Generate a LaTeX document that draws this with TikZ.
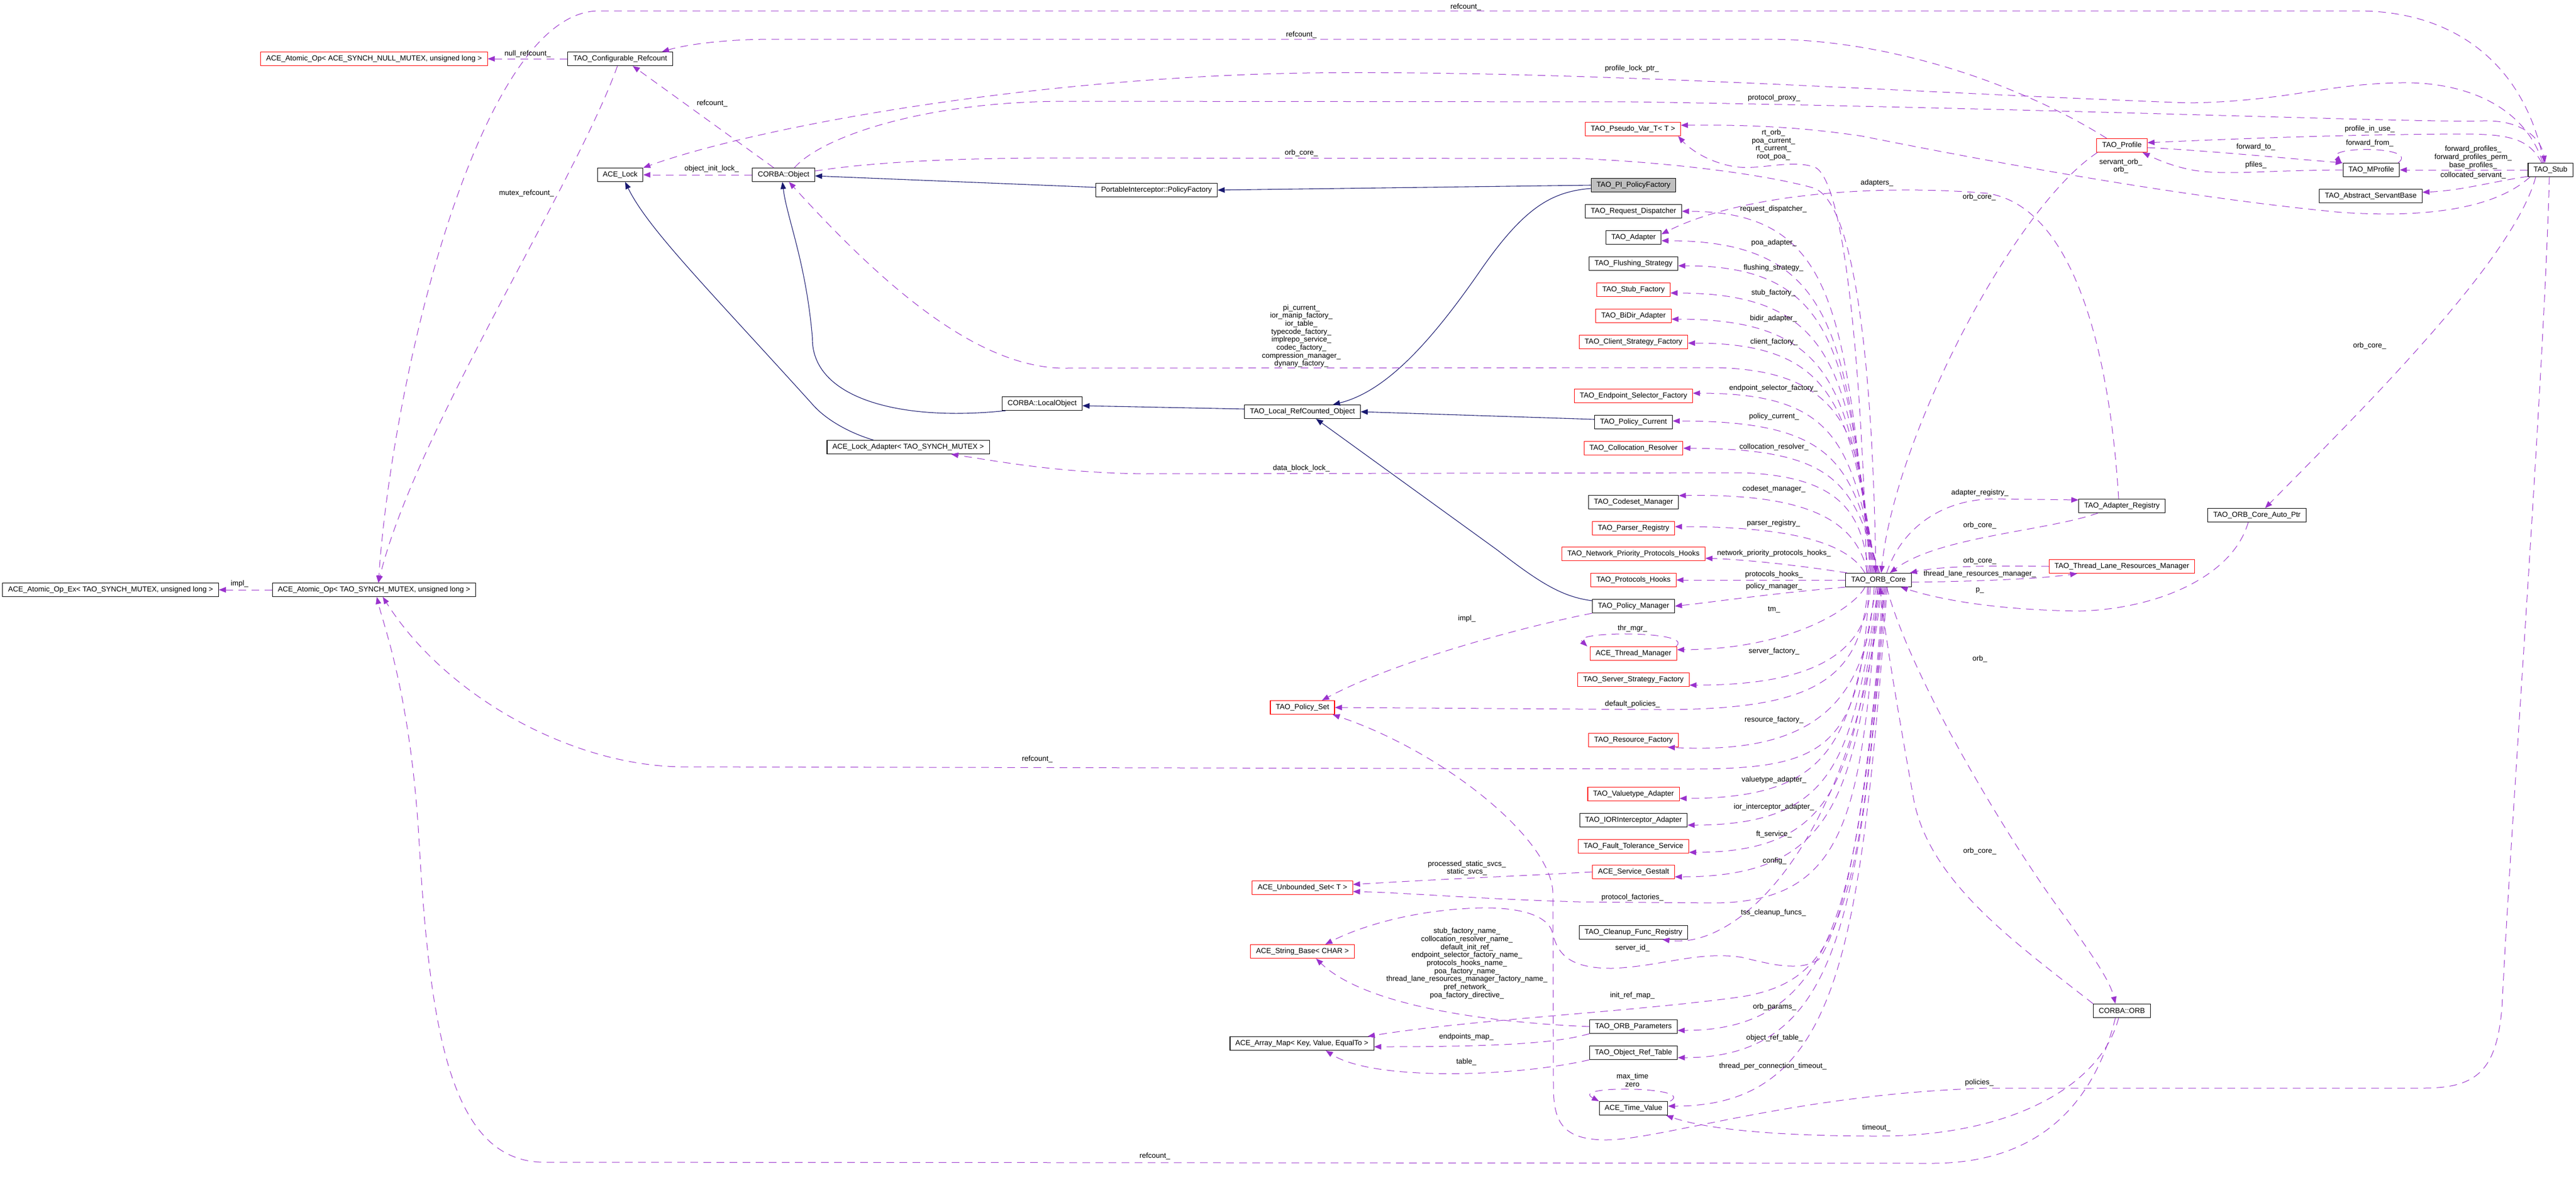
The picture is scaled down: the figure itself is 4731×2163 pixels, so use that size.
\documentclass[tikz,border=0pt]{standalone}
\usepackage{fontspec}
\setmainfont{Liberation Sans}
\usetikzlibrary{arrows.meta}
\definecolor{memc}{HTML}{9A32CD}
\definecolor{inhc}{HTML}{191970}
\definecolor{grayfill}{HTML}{BFBFBF}
\newcommand{\dfont}{\fontsize{13.5pt}{14.7pt}\selectfont}
\tikzset{
  cls/.style={draw=black, line width=1.1pt, fill=white, rectangle, minimum height=25pt, inner xsep=10pt, inner ysep=2pt, font=\dfont},
  inc/.style={cls, draw=red},
  subj/.style={cls, fill=grayfill},
  mem/.style={draw=memc, line width=1pt, dash pattern=on 14pt off 10pt, -{Triangle[length=13pt,width=10pt]}},
  inh/.style={draw=inhc, line width=1.1pt, -{Triangle[length=13pt,width=10pt]}},
  lbl/.style={font=\dfont, inner sep=0pt, align=center},
}
\begin{document}
\begin{tikzpicture}[x=1pt,y=-1pt]
\fill[white] (0,0) rectangle (4731,2163);
\useasboundingbox (0,0) rectangle (4731,2163);
% ---------------- nodes ----------------
\node[cls] (aex) at (203,1083) {ACE\_Atomic\_Op\_Ex< TAO\_SYNCH\_MUTEX, unsigned long >};
\node[inc] (anull) at (687,108) {ACE\_Atomic\_Op< ACE\_SYNCH\_NULL\_MUTEX, unsigned long >};
\node[cls] (aop) at (687,1083) {ACE\_Atomic\_Op< TAO\_SYNCH\_MUTEX, unsigned long >};
\node[cls] (cref) at (1139,108) {TAO\_Configurable\_Refcount};
\node[cls] (lock) at (1139,321) {ACE\_Lock};
\node[cls] (cobj) at (1439,321) {CORBA::Object};
\node[cls] (lockad) at (1668,821) {ACE\_Lock\_Adapter< TAO\_SYNCH\_MUTEX >};
\node[cls] (lobj) at (1914,741) {CORBA::LocalObject};
\node[cls] (pipf) at (2124,349) {PortableInterceptor::PolicyFactory};
\node[cls] (lrc) at (2392,756) {TAO\_Local\_RefCounted\_Object};
\node[inc] (pset) at (2392,1299) {TAO\_Policy\_Set};
\node[inc] (uset) at (2392,1630) {ACE\_Unbounded\_Set< T >};
\node[inc] (sbase) at (2392,1747) {ACE\_String\_Base< CHAR >};
\node[cls] (amap) at (2391,1916) {ACE\_Array\_Map< Key, Value, EqualTo >};
\node[inc] (pseudo) at (2999,237) {TAO\_Pseudo\_Var\_T< T >};
\node[subj] (pipf2) at (3000,340) {TAO\_PI\_PolicyFactory};
\node[cls] (reqd) at (3000,388) {TAO\_Request\_Dispatcher};
\node[cls] (adapter) at (3000,436) {TAO\_Adapter};
\node[cls] (flush) at (3000,484) {TAO\_Flushing\_Strategy};
\node[inc] (stubf) at (3000,532) {TAO\_Stub\_Factory};
\node[inc] (bidir) at (3000,580) {TAO\_BiDir\_Adapter};
\node[inc] (csf) at (3000,628) {TAO\_Client\_Strategy\_Factory};
\node[inc] (esf) at (3000,727) {TAO\_Endpoint\_Selector\_Factory};
\node[cls] (pcur) at (3000,775) {TAO\_Policy\_Current};
\node[inc] (coll) at (3000,823) {TAO\_Collocation\_Resolver};
\node[cls] (codeset) at (3000,922) {TAO\_Codeset\_Manager};
\node[inc] (parser) at (3000,970) {TAO\_Parser\_Registry};
\node[inc] (nph) at (3000,1017) {TAO\_Network\_Priority\_Protocols\_Hooks};
\node[inc] (phooks) at (3000,1065) {TAO\_Protocols\_Hooks};
\node[cls] (pman) at (3000,1113) {TAO\_Policy\_Manager};
\node[inc] (thrm) at (3000,1200) {ACE\_Thread\_Manager};
\node[inc] (ssf) at (3000,1248) {TAO\_Server\_Strategy\_Factory};
\node[inc] (resf) at (3000,1359) {TAO\_Resource\_Factory};
\node[inc] (vta) at (3000,1458) {TAO\_Valuetype\_Adapter};
\node[cls] (iora) at (3000,1506) {TAO\_IORInterceptor\_Adapter};
\node[inc] (fts) at (3000,1554) {TAO\_Fault\_Tolerance\_Service};
\node[inc] (gestalt) at (3000,1601) {ACE\_Service\_Gestalt};
\node[cls] (cleanup) at (3000,1712) {TAO\_Cleanup\_Func\_Registry};
\node[cls] (orbp) at (3000,1885) {TAO\_ORB\_Parameters};
\node[cls] (ort) at (3000,1933) {TAO\_Object\_Ref\_Table};
\node[cls] (tv) at (3000,2035) {ACE\_Time\_Value};
\node[cls] (core) at (3450,1065) {TAO\_ORB\_Core};
\node[inc] (profile) at (3897,267) {TAO\_Profile};
\node[cls] (areg) at (3897,929) {TAO\_Adapter\_Registry};
\node[inc] (tlrm) at (3897,1040) {TAO\_Thread\_Lane\_Resources\_Manager};
\node[cls] (corb) at (3897,1856) {CORBA::ORB};
\node[cls] (autoptr) at (4145,946) {TAO\_ORB\_Core\_Auto\_Ptr};
\node[cls] (mprof) at (4355,312) {TAO\_MProfile};
\node[cls] (asb) at (4354,360) {TAO\_Abstract\_ServantBase};
\node[cls] (stub) at (4684,312) {TAO\_Stub};
% ---------------- inheritance ----------------
\draw[inh] (pipf2.west) -- (pipf.east);
\draw[inh] ([yshift=5pt]pipf.west) -- ([yshift=-2pt]cobj.east);
\draw[inh] ([yshift=-6pt]pipf2.west) .. controls (2850,352) and (2800,380) .. (2720,495) .. controls (2620,640) and (2540,720) .. ([xshift=56pt]lrc.north);
\draw[inh] ([yshift=5pt]lrc.west) -- ([yshift=-4pt]lobj.east);
\draw[inh] ([xshift=7pt]lobj.south west) .. controls (1650,775) and (1490,730) .. (1492,620) .. controls (1480,480) and (1445,400) .. ([xshift=-2pt]cobj.south);
\draw[inh] ([yshift=5pt]pcur.west) -- (lrc.east);
\draw[inh] ([yshift=10pt]pman.west) .. controls (2870,1096) and (2830,1072) .. (2750,1010) -- ([xshift=25pt]lrc.south);
\draw[inh] ([xshift=-64pt]lockad.north) .. controls (1560,795) and (1515,770) .. (1490,740) .. controls (1300,530) and (1190,420) .. ([xshift=9pt]lock.south);
% ---------------- left cluster ----------------
\draw[mem] (aop.west) -- (aex.east);
\draw[mem] (cref.west) -- (anull.east);
\draw[mem] ([xshift=-5pt]cref.south) .. controls (1060,330) and (760,800) .. ([xshift=8pt]aop.north);
\draw[mem] ([xshift=-12pt]stub.north) .. controls (4640,130) and (4520,20) .. (4330,20) -- (1100,20) .. controls (880,20) and (720,700) .. ([xshift=8pt]aop.north);
\draw[mem] ([xshift=-28pt]profile.north) .. controls (3720,160) and (3480,73) .. (3250,72) -- (1420,72) .. controls (1330,72) and (1260,82) .. ([xshift=-20pt]cref.north east);
\draw[mem] ([xshift=-18pt]cobj.north) -- ([xshift=23pt]cref.south);
\draw[mem] (cobj.west) -- (lock.east);
\draw[mem] ([xshift=-14pt]stub.north) .. controls (4635,190) and (4520,150) .. (4410,152) .. controls (4270,154) and (4200,186) .. (4020,189) .. controls (3500,170) and (2900,128) .. (2400,134) .. controls (1900,142) and (1400,230) .. (lock.north east);
\draw[mem] ([xshift=20pt]cobj.north) .. controls (1510,250) and (1700,187) .. (1950,186) -- (3000,187) .. controls (3800,200) and (4450,226) .. (4560,222) .. controls (4640,220) and (4668,260) .. ([xshift=-10pt]stub.north);
\draw[mem] ([yshift=7pt]cobj.east) .. controls (1600,298) and (1750,290) .. (1950,290) -- (2900,291) .. controls (3100,300) and (3260,325) .. (3330,345) .. controls (3410,370) and (3440,700) .. ([xshift=-5pt]core.north);
\draw[mem] ([xshift=-16pt]core.north) .. controls (3425,800) and (3390,680) .. (3150,675) -- (1950,676) .. controls (1780,672) and (1600,500) .. ([xshift=10pt]cobj.south);
\draw[mem] ([xshift=-18pt]core.north) .. controls (3420,950) and (3390,875) .. (3200,868) -- (2100,870) .. controls (1950,868) and (1850,850) .. ([xshift=79pt]lockad.south);
\draw[mem] ([xshift=-22pt]core.north) .. controls (3420,700) and (3390,340) .. (3335,308) .. controls (3290,290) and (3230,315) .. (3180,305) .. controls (3130,295) and (3100,270) .. ([xshift=-5pt]pseudo.south east);
% ---------------- right cluster ----------------
\draw[mem] ([xshift=4pt]stub.south west) .. controls (4580,385) and (4450,400) .. (4300,390) .. controls (4000,362) and (3620,290) .. (3420,250) .. controls (3300,232) and (3200,229) .. ([yshift=7pt]pseudo.east);
\draw[mem] ([xshift=-16pt]stub.north) .. controls (4645,255) and (4610,246) .. (4520,246) .. controls (4300,247) and (4100,255) .. ([yshift=5pt]profile.east);
\draw[mem] ([yshift=-4pt]profile.east) .. controls (4060,277) and (4190,290) .. (mprof.north west);
\draw[mem] (mprof.west) .. controls (4150,313) and (4090,322) .. (4031,313) .. controls (3990,306) and (3960,292) .. ([xshift=38pt]profile.south);
\draw[mem] ([xshift=-3pt]mprof.north east) .. controls (4445,268) and (4270,268) .. ([xshift=-2pt]mprof.north west);
\draw[mem] (stub.west) -- (mprof.east);
\draw[mem] ([yshift=-12pt]stub.west) .. controls (4580,333) and (4520,350) .. ([yshift=7pt]asb.east);
\draw[mem] ([xshift=-27pt]stub.south) .. controls (4615,480) and (4330,760) .. ([xshift=15pt]autoptr.north);
\draw[mem] ([xshift=-2pt]stub.south) .. controls (4672,700) and (4612,1500) .. (4595,1850) .. controls (4585,1965) and (4550,1998) .. (4450,1998) -- (3650,1998) .. controls (3300,2008) and (3050,2093) .. (2950,2093) .. controls (2870,2093) and (2854,2060) .. (2853,2000) -- (2852,1640) .. controls (2850,1540) and (2650,1380) .. ([xshift=-4pt]pset.south east);
\draw[mem] ([xshift=-16pt]autoptr.south) .. controls (4100,1060) and (3960,1118) .. (3820,1122) .. controls (3660,1120) and (3560,1100) .. ([xshift=-20pt]core.south east);
\draw[mem] ([yshift=-4pt]core.east) .. controls (3600,1068) and (3740,1064) .. ([xshift=-82pt]tlrm.south);
\draw[mem] (tlrm.west) .. controls (3650,1038) and (3560,1040) .. ([xshift=-3pt]core.north east);
\draw[mem] ([xshift=15pt]core.north) .. controls (3490,975) and (3560,918) .. (3660,916) -- ([yshift=11pt]areg.west);
\draw[mem] ([xshift=-44pt]areg.south) .. controls (3760,975) and (3560,985) .. ([xshift=21pt]core.north);
\draw[mem] ([xshift=-6pt]areg.north) .. controls (3875,650) and (3810,380) .. (3650,355) .. controls (3450,338) and (3200,355) .. ([yshift=6pt]adapter.east);
\draw[mem] ([xshift=-45pt]profile.south) .. controls (3700,380) and (3480,800) .. ([xshift=5pt]core.north);
\draw[mem] ([xshift=15pt]core.south) .. controls (3510,1250) and (3700,1560) .. (3790,1680) .. controls (3840,1750) and (3875,1800) .. ([xshift=-12pt]corb.north);
\draw[mem] (corb.north west) .. controls (3700,1730) and (3545,1620) .. (3515,1470) .. controls (3490,1330) and (3462,1170) .. ([xshift=3pt]core.south);
\draw[mem] ([xshift=-6pt]corb.south) .. controls (3860,1990) and (3700,2086) .. (3450,2086) .. controls (3250,2086) and (3130,2072) .. ([xshift=60pt]tv.south);
\draw[mem] ([xshift=-12pt]corb.south) .. controls (3850,2010) and (3760,2135) .. (3550,2136) -- (1000,2134) .. controls (830,2134) and (790,1900) .. (770,1550) .. controls (755,1280) and (705,1150) .. ([xshift=5pt]aop.south);
% ---------------- ORB core fan, upper ----------------
\draw[mem] ([xshift=-14pt]core.north) .. controls (3386,587) and (3380,388) .. (reqd.east);
\draw[mem] ([xshift=-12pt]core.north) .. controls (3388,625) and (3380,442) .. ([yshift=-6pt]adapter.east);
\draw[mem] ([xshift=-10pt]core.north) .. controls (3390,657) and (3380,488) .. ([yshift=-4pt]flush.east);
\draw[mem] ([xshift=-8pt]core.north) .. controls (3392,692) and (3380,538) .. ([yshift=-6pt]stubf.east);
\draw[mem] ([xshift=-6pt]core.north) .. controls (3394,726) and (3380,586) .. ([yshift=-6pt]bidir.east);
\draw[mem] ([xshift=-4pt]core.north) .. controls (3396,757) and (3380,630) .. ([yshift=-2pt]csf.east);
\draw[mem] ([xshift=-2pt]core.north) .. controls (3398,821) and (3380,722) .. ([yshift=5pt]esf.east);
\draw[mem] (core.north) .. controls (3400,857) and (3380,773) .. ([yshift=2pt]pcur.east);
\draw[mem] ([xshift=2pt]core.north) .. controls (3402,892) and (3380,824) .. (coll.east);
\draw[mem] ([xshift=-20pt]core.north) .. controls (3410,960) and (3330,906) .. ([yshift=12pt]codeset.east);
\draw[mem] ([xshift=-25pt]core.north) .. controls (3395,1000) and (3300,967) .. ([yshift=3pt]parser.east);
\draw[mem] ([xshift=3pt]core.north west) .. controls (3330,1042) and (3220,1028) .. ([yshift=-8pt]nph.east);
\draw[mem] (core.west) -- (phooks.east);
% ---------------- ORB core fan, lower ----------------
\draw[mem] (core.south west) .. controls (3250,1090) and (3150,1105) .. (pman.east);
\draw[mem] ([xshift=-25pt]core.south) .. controls (3410,1110) and (3300,1192) .. ([yshift=7pt]thrm.east);
\draw[mem] ([xshift=-2pt]thrm.north east) .. controls (3115,1158) and (2885,1158) .. ([xshift=-5pt]thrm.north west);
\draw[mem] ([xshift=-15pt]core.south) .. controls (3430,1200) and (3330,1258) .. ([yshift=-10pt]ssf.east);
\draw[mem] ([xshift=-20pt]core.south) .. controls (3420,1250) and (3330,1303) .. (3050,1303) -- (pset.east);
\draw[mem] ([xshift=-18pt]core.south) .. controls (3420,1380) and (3350,1412) .. (3100,1412) -- (1250,1408) .. controls (1050,1405) and (820,1280) .. ([xshift=16pt]aop.south);
\draw[mem] ([xshift=-8pt]core.south) .. controls (3430,1300) and (3320,1385) .. ([xshift=63pt]resf.south);
\draw[mem] ([xshift=-4pt]core.south) .. controls (3396,1350) and (3380,1466) .. ([yshift=-8pt]vta.east);
\draw[mem] (core.south) .. controls (3400,1384) and (3380,1515) .. ([yshift=-9pt]iora.east);
\draw[mem] ([xshift=2pt]core.south) .. controls (3402,1419) and (3380,1565) .. ([yshift=-11pt]fts.east);
\draw[mem] ([xshift=4pt]core.south) .. controls (3404,1451) and (3380,1610) .. ([yshift=-9pt]gestalt.east);
\draw[mem] (gestalt.west) .. controls (2800,1608) and (2650,1614) .. ([yshift=6pt]uset.east);
\draw[mem] ([xshift=-2pt]core.south) .. controls (3420,1500) and (3390,1655) .. (3150,1658) -- (2900,1656) .. controls (2700,1650) and (2600,1640) .. ([yshift=-7pt]uset.east);
\draw[mem] ([xshift=6pt]core.south) .. controls (3406,1533) and (3200,1745) .. ([xshift=53pt]cleanup.south);
\draw[mem] ([xshift=8pt]core.south) .. controls (3430,1500) and (3385,1700) .. (3340,1762) .. controls (3305,1785) and (3250,1770) .. (3200,1758) .. controls (3120,1745) and (3050,1775) .. (2960,1778) .. controls (2880,1778) and (2860,1750) .. (2851,1712) .. controls (2842,1680) and (2790,1666) .. (2720,1667) .. controls (2600,1670) and (2500,1700) .. ([xshift=42pt]sbase.north);
\draw[mem] ([xshift=10pt]core.south) .. controls (3420,1700) and (3370,1800) .. (3200,1830) .. controls (3000,1858) and (2700,1872) .. ([xshift=121pt]amap.north);
\draw[mem] ([xshift=12pt]core.south) .. controls (3412,1648) and (3380,1892) .. ([yshift=-7pt]orbp.east);
\draw[mem] ([xshift=14pt]core.south) .. controls (3414,1683) and (3380,1942) .. ([yshift=-9pt]ort.east);
\draw[mem] ([xshift=16pt]core.south) .. controls (3416,1745) and (3380,2031) .. ([yshift=4pt]tv.east);
\draw[mem] (orbp.west) .. controls (2700,1876) and (2500,1840) .. ([xshift=25pt]sbase.south);
\draw[mem] (orbp.south west) .. controls (2860,1915) and (2760,1922) .. ([yshift=-6pt]amap.east);
\draw[mem] (ort.south west) .. controls (2780,1978) and (2520,1985) .. ([xshift=44pt]amap.south);
\draw[mem] (pman.south west) .. controls (2800,1150) and (2560,1215) .. ([xshift=36pt]pset.north);
\draw[mem] ([xshift=4pt]tv.north east) .. controls (3115,1995) and (2880,1992) .. (tv.north west);
% ---------------- labels ----------------
\node[lbl] (L1) at (440,1072) {impl\_};
\node[lbl] (L2) at (969,99) {null\_refcount\_};
\node[lbl] (L3) at (967,355) {mutex\_refcount\_};
\node[lbl] (L4) at (2692,13) {refcount\_};
\node[lbl] (L5) at (2390,64) {refcount\_};
\node[lbl] (L6) at (1308,190) {refcount\_};
\node[lbl] (L7) at (1307,310) {object\_init\_lock\_};
\node[lbl] (L8) at (2997,126) {profile\_lock\_ptr\_};
\node[lbl] (L9) at (3258,180) {protocol\_proxy\_};
\node[lbl] (L10) at (2390,281) {orb\_core\_};
\node[lbl] (L11) at (2390,617) {pi\_current\_\\ior\_manip\_factory\_\\ior\_table\_\\typecode\_factory\_\\implrepo\_service\_\\codec\_factory\_\\compression\_manager\_\\dynany\_factory\_};
\node[lbl] (L12) at (2390,860) {data\_block\_lock\_};
\node[lbl] (L13) at (3257,266) {rt\_orb\_\\poa\_current\_\\rt\_current\_\\root\_poa\_};
\node[lbl] (L14) at (3447,336) {adapters\_};
\node[lbl] (L15) at (3635,362) {orb\_core\_};
\node[lbl] (L16) at (3257,384) {request\_dispatcher\_};
\node[lbl] (L17) at (3258,446) {poa\_adapter\_};
\node[lbl] (L18) at (3257,492) {flushing\_strategy\_};
\node[lbl] (L19) at (3257,538) {stub\_factory\_};
\node[lbl] (L20) at (3257,585) {bidir\_adapter\_};
\node[lbl] (L21) at (3258,628) {client\_factory\_};
\node[lbl] (L22) at (3257,713) {endpoint\_selector\_factory\_};
\node[lbl] (L23) at (3258,765) {policy\_current\_};
\node[lbl] (L24) at (3258,821) {collocation\_resolver\_};
\node[lbl] (L25) at (3258,898) {codeset\_manager\_};
\node[lbl] (L26) at (3257,961) {parser\_registry\_};
\node[lbl] (L27) at (3636,905) {adapter\_registry\_};
\node[lbl] (L28) at (3636,965) {orb\_core\_};
\node[lbl] (L29) at (3258,1016) {network\_priority\_protocols\_hooks\_};
\node[lbl] (L30) at (3636,1030) {orb\_core\_};
\node[lbl] (L31) at (3258,1055) {protocols\_hooks\_};
\node[lbl] (L32) at (3636,1054) {thread\_lane\_resources\_manager\_};
\node[lbl] (L33) at (3258,1077) {policy\_manager\_};
\node[lbl] (L34) at (3636,1084) {p\_};
\node[lbl] (L35) at (3258,1119) {tm\_};
\node[lbl] (L36) at (2694,1136) {impl\_};
\node[lbl] (L37) at (2998,1154) {thr\_mgr\_};
\node[lbl] (L38) at (3258,1196) {server\_factory\_};
\node[lbl] (L39) at (3636,1210) {orb\_};
\node[lbl] (L40) at (2998,1293) {default\_policies\_};
\node[lbl] (L41) at (3258,1322) {resource\_factory\_};
\node[lbl] (L42) at (1905,1394) {refcount\_};
\node[lbl] (L43) at (3258,1432) {valuetype\_adapter\_};
\node[lbl] (L44) at (3258,1482) {ior\_interceptor\_adapter\_};
\node[lbl] (L45) at (3258,1532) {ft\_service\_};
\node[lbl] (L46) at (3636,1563) {orb\_core\_};
\node[lbl] (L47) at (3259,1581) {config\_};
\node[lbl] (L48) at (2694,1594) {processed\_static\_svcs\_\\static\_svcs\_};
\node[lbl] (L49) at (2998,1648) {protocol\_factories\_};
\node[lbl] (L50) at (3257,1676) {tss\_cleanup\_funcs\_};
\node[lbl] (L51) at (2998,1741) {server\_id\_};
\node[lbl] (L52) at (2694,1769) {stub\_factory\_name\_\\collocation\_resolver\_name\_\\default\_init\_ref\_\\endpoint\_selector\_factory\_name\_\\protocols\_hooks\_name\_\\poa\_factory\_name\_\\thread\_lane\_resources\_manager\_factory\_name\_\\pref\_network\_\\poa\_factory\_directive\_};
\node[lbl] (L53) at (2998,1828) {init\_ref\_map\_};
\node[lbl] (L54) at (3259,1849) {orb\_params\_};
\node[lbl] (L55) at (2693,1904) {endpoints\_map\_};
\node[lbl] (L56) at (3259,1906) {object\_ref\_table\_};
\node[lbl] (L57) at (2693,1950) {table\_};
\node[lbl] (L58) at (3256,1958) {thread\_per\_connection\_timeout\_};
\node[lbl] (L59) at (2998,1983) {max\_time\\zero};
\node[lbl] (L60) at (3635,1988) {policies\_};
\node[lbl] (L61) at (3446,2071) {timeout\_};
\node[lbl] (L62) at (2121,2123) {refcount\_};
\node[lbl] (L63) at (4352,237) {profile\_in\_use\_};
\node[lbl] (L64) at (4143,270) {forward\_to\_};
\node[lbl] (L65) at (4352,263) {forward\_from\_};
\node[lbl] (L66) at (3895,305) {servant\_orb\_\\orb\_};
\node[lbl] (L67) at (4143,303) {pfiles\_};
\node[lbl] (L68) at (4542,289) {forward\_profiles\_\\forward\_profiles\_perm\_\\base\_profiles\_};
\node[lbl] (L69) at (4542,322) {collocated\_servant\_};
\node[lbl] (L70) at (4352,635) {orb\_core\_};
\end{tikzpicture}
\end{document}
